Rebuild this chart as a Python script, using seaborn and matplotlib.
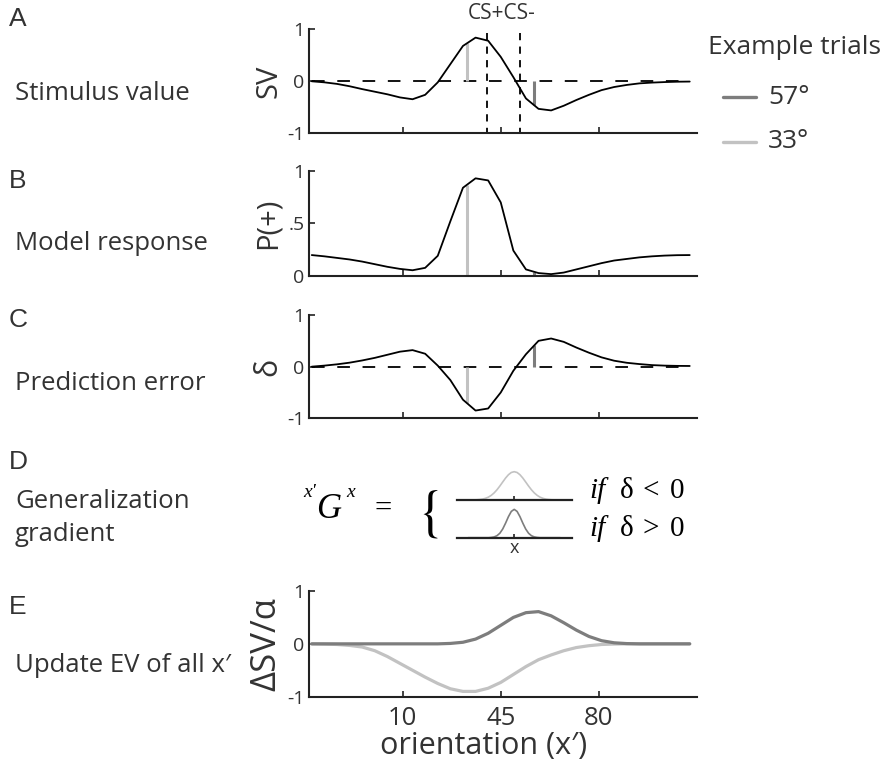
import numpy as np
import pandas as pd
import matplotlib
matplotlib.use("Agg")
import matplotlib.pyplot as plt
from matplotlib.lines import Line2D
import seaborn as sns

# ---------------- data ----------------
orientation = [-22.5, -18.0, -13.5, -9.0, -4.5, 0.0, 4.5, 9.0, 13.5, 18.0, 22.5,
               27.0, 31.5, 36.0, 40.5, 45.0, 49.5, 54.0, 58.5, 63.0, 67.5, 72.0,
               76.5, 81.0, 85.5, 90.0, 94.5, 99.0, 103.5, 108.0, 112.5]
stim_value = [0.0, -0.02, -0.05, -0.095, -0.15, -0.2, -0.25, -0.31, -0.345, -0.26,
              -0.02, 0.33, 0.68, 0.84, 0.78, 0.47, 0.08, -0.33, -0.53, -0.56, -0.47,
              -0.36, -0.26, -0.17, -0.11, -0.07, -0.04, -0.025, -0.015, -0.008, -0.005]
p_plus = [0.197, 0.185, 0.17, 0.155, 0.135, 0.11, 0.085, 0.065, 0.052, 0.075, 0.19,
          0.52, 0.84, 0.93, 0.91, 0.70, 0.24, 0.06, 0.025, 0.015, 0.03, 0.06, 0.09,
          0.12, 0.145, 0.16, 0.175, 0.185, 0.192, 0.196, 0.197]
pred_error = [0.0, 0.02, 0.045, 0.077, 0.12, 0.17, 0.23, 0.29, 0.32, 0.25, 0.02,
              -0.26, -0.64, -0.85, -0.81, -0.50, -0.08, 0.24, 0.50, 0.545, 0.48, 0.37,
              0.27, 0.18, 0.115, 0.075, 0.05, 0.03, 0.02, 0.015, 0.013]
update_33 = [0.0, -0.005, -0.012, -0.03, -0.06, -0.13, -0.24, -0.37, -0.50, -0.63,
             -0.75, -0.85, -0.90, -0.90, -0.84, -0.73, -0.58, -0.43, -0.30, -0.21,
             -0.13, -0.07, -0.035, -0.012, -0.004, 0.0, 0.0, 0.0, 0.0, 0.0, 0.0]
update_57 = [0.0, 0.0, 0.0, 0.0, 0.0, 0.0, 0.0, 0.0, 0.0, 0.0, 0.0, 0.008, 0.03,
             0.09, 0.20, 0.35, 0.50, 0.59, 0.61, 0.53, 0.40, 0.26, 0.14, 0.06, 0.02,
             0.005, 0.0, 0.0, 0.0, 0.0, 0.0]

trial_labels = ["57°", "33°"]
trial_orient = [57, 33]
cs_labels = ["CS+", "CS-"]
cs_orient = [40, 52]
xtick_vals = [10, 45, 80]
xtick_labels = ["10", "45", "80"]

# generalization-gradient icons (relative position, normalised height)
gg_pos = [-0.8, -0.75, -0.7, -0.65, -0.6, -0.55, -0.5, -0.45, -0.4, -0.35, -0.3, -0.25,
          -0.2, -0.15, -0.1, -0.05, 0.0, 0.05, 0.1, 0.15, 0.2, 0.25, 0.3, 0.35, 0.4,
          0.45, 0.5, 0.55, 0.6, 0.65, 0.7, 0.75, 0.8]
gg_wide = [0.0, 0.002, 0.004, 0.008, 0.017, 0.032, 0.059, 0.10, 0.163, 0.249, 0.36,
           0.492, 0.635, 0.775, 0.893, 0.972, 1.0, 0.972, 0.893, 0.775, 0.635, 0.492,
           0.36, 0.249, 0.163, 0.10, 0.059, 0.032, 0.017, 0.008, 0.004, 0.002, 0.0]
gg_narrow = [0.0, 0.0, 0.0, 0.0, 0.0, 0.0, 0.0, 0.0, 0.009, 0.027, 0.07, 0.157, 0.306,
             0.514, 0.744, 0.929, 1.0, 0.929, 0.744, 0.514, 0.306, 0.157, 0.07, 0.027,
             0.009, 0.0, 0.0, 0.0, 0.0, 0.0, 0.0, 0.0, 0.0]

# ---------------- style ----------------
sns.set_style("ticks")
plt.rcParams["font.family"] = ["Open Sans", "DejaVu Sans"]
plt.rcParams["mathtext.fontset"] = "stix"

TXT = "#333333"
AXC = "#222222"
DARK = "#7d7d7d"
LIGHT = "#c2c2c2"
SERIF = ["Liberation Serif", "DejaVu Serif"]
trial_colors = [DARK, LIGHT]

W, H = 882, 762
fig = plt.figure(figsize=(W / 100, H / 100), dpi=100)


def add_ax(l, t, r, b):
    return fig.add_axes([l / W, 1 - b / H, (r - l) / W, (b - t) / H])


def fx(px):
    return px / W


def fy(py):
    return 1 - py / H


XL, XR = 308.7, 697
XLIM = (-23.6, 115.1)

axA = add_ax(XL, 29.3, XR, 133.3)
axB = add_ax(XL, 171, XR, 275.7)
axC = add_ax(XL, 315, XR, 418.3)
axE = add_ax(XL, 591, XR, 696.7)

df = pd.DataFrame({"orientation": orientation, "sv": stim_value, "p": p_plus,
                   "delta": pred_error, "u33": update_33, "u57": update_57})

for ax in (axA, axB, axC, axE):
    sns.despine(ax=ax)
    ax.set_xlim(*XLIM)
    ax.set_xticks(xtick_vals)
    for s in ("left", "bottom"):
        ax.spines[s].set_color(AXC)
        ax.spines[s].set_linewidth(1.5)
    ax.tick_params(direction="in", length=4, width=1.2, colors=AXC,
                   labelcolor=TXT, labelsize=14, pad=3)
    ax.patch.set_alpha(0)

for ax in (axA, axB, axC):
    ax.tick_params(axis="x", labelbottom=False)

dash_long = (0, (7, 7))
dash_short = (0, (4, 3.5))

# ---- A: stimulus value ----
axA.plot([orientation[0], orientation[-1]], [0, 0], color="k", lw=1.3, linestyle=dash_long)
for xo in cs_orient:
    axA.plot([xo, xo], [0.93, -1], color="k", lw=1.3, linestyle=dash_short, clip_on=False)
for xo, c in zip(trial_orient, trial_colors):
    axA.vlines(xo, 0, np.interp(xo, orientation, stim_value), color=c, lw=2.2)
sns.lineplot(data=df, x="orientation", y="sv", ax=axA, color="k", lw=1.3)
axA.set_ylim(-1, 1)
axA.set_yticks([-1, 0, 1])
axA.set_yticklabels(["-1", "0", "1"])
axA.text(np.mean(cs_orient) - 0.5, 1.31, "".join(cs_labels), ha="center", va="center",
         fontsize=15, color=TXT)

# ---- B: model response ----
for xo, c in zip(trial_orient, trial_colors):
    axB.vlines(xo, 0, np.interp(xo, orientation, p_plus), color=c, lw=2.2)
sns.lineplot(data=df, x="orientation", y="p", ax=axB, color="k", lw=1.3)
axB.set_ylim(0, 1)
axB.set_yticks([0, 0.5, 1])
axB.set_yticklabels(["0", ".5", "1"])

# ---- C: prediction error ----
axC.plot([orientation[0], orientation[-1]], [0, 0], color="k", lw=1.3, linestyle=dash_long)
for xo, c in zip(trial_orient, trial_colors):
    axC.vlines(xo, 0, np.interp(xo, orientation, pred_error), color=c, lw=2.2)
sns.lineplot(data=df, x="orientation", y="delta", ax=axC, color="k", lw=1.3)
axC.set_ylim(-1, 1)
axC.set_yticks([-1, 0, 1])
axC.set_yticklabels(["-1", "0", "1"])

# ---- E: update ----
sns.lineplot(data=df, x="orientation", y="u33", ax=axE, color=LIGHT, lw=2.3)
sns.lineplot(data=df, x="orientation", y="u57", ax=axE, color=DARK, lw=2.3)
axE.set_ylim(-1, 1)
axE.set_yticks([-1, 0, 1])
axE.set_yticklabels(["-1", "0", "1"])
axE.set_xticklabels(xtick_labels)
axE.tick_params(axis="x", labelsize=18.5, pad=7)
axE.set_xlabel("orientation (x′)", fontsize=22, color=TXT)
axE.xaxis.set_label_coords((484 - XL) / (XR - XL), -0.32)

ylabels = {axA: ("SV", 21), axB: ("P(+)", 21), axC: ("δ", 22), axE: ("ΔSV/α", 25)}
for ax, (lab, fs) in ylabels.items():
    ax.set_ylabel(lab, fontsize=fs, color=TXT)
    ax.yaxis.set_label_coords(-0.066, 0.5)

# ---- D: generalization gradient icons ----
for top, vals, col, show_x in ((468, gg_wide, LIGHT, False), (505.7, gg_narrow, DARK, True)):
    axg = add_ax(456.7, top, 571.7, top + 32)
    sns.lineplot(x=gg_pos, y=vals, ax=axg, color=col, lw=1.2)
    axg.set_xlim(-1, 1)
    axg.set_ylim(0, 1.13)
    sns.despine(ax=axg, left=True)
    axg.spines["bottom"].set_linewidth(1.6)
    axg.spines["bottom"].set_color(AXC)
    axg.set_yticks([])
    axg.set_ylabel("")
    axg.set_xticks([0])
    axg.set_xticklabels(["x"] if show_x else [""])
    axg.tick_params(axis="x", direction="in", length=3, width=1.2, colors=AXC,
                    labelcolor=TXT, labelsize=13, pad=1)
    axg.patch.set_alpha(0)

# formula  x'G^x = { ... if δ < 0 / if δ > 0
fig.text(fx(303), fy(497), "x'", fontsize=14, style="italic", family=SERIF, color="k",
         ha="left", va="baseline")
fig.text(fx(316), fy(518), "G", fontsize=25, style="italic", family=SERIF, color="k",
         ha="left", va="baseline")
fig.text(fx(346), fy(497), "x", fontsize=14, style="italic", family=SERIF, color="k",
         ha="left", va="baseline")
fig.text(fx(375), fy(517), "=", fontsize=22, family=SERIF, color="k",
         ha="left", va="baseline")
fig.text(fx(428), fy(514), r"$\{$", fontsize=40, color="k", ha="center", va="center")
for base, rel in ((498, "<"), (536, ">")):
    fig.text(fx(589), fy(base), "if", fontsize=21, style="italic", family=SERIF,
             color="k", ha="left", va="baseline")
    fig.text(fx(620), fy(base), "δ", fontsize=21, family=SERIF, color="k",
             ha="left", va="baseline")
    fig.text(fx(642), fy(base), rel, fontsize=21, family=SERIF, color="k",
             ha="left", va="baseline")
    fig.text(fx(670), fy(base), "0", fontsize=21, family=SERIF, color="k",
             ha="left", va="baseline")

# ---- left panel labels ----
panel_letters = [("A", 19), ("B", 181), ("C", 320), ("D", 462), ("E", 607)]
for let, py in panel_letters:
    fig.text(fx(9), fy(py), let, fontsize=19, color=TXT, ha="left", va="center",
             family=["Liberation Sans", "DejaVu Sans"])
row_titles = [("Stimulus value", 93), ("Model response", 243), ("Prediction error", 384),
              ("Generalization\ngradient", 518), ("Update EV of all x′", 665)]
for t, py in row_titles:
    fig.text(fx(15), fy(py), t, fontsize=18.5, color=TXT, ha="left", va="center",
             linespacing=1.42)

# ---- legend ----
fig.text(fx(708), fy(48), "Example trials", fontsize=19, color=TXT, ha="left", va="center")
for lab, c, py in zip(trial_labels, trial_colors, [97, 142]):
    fig.add_artist(Line2D([fx(723), fx(756)], [fy(py), fy(py)], transform=fig.transFigure,
                          color=c, lw=2.4))
    fig.text(fx(768), fy(py), lab, fontsize=19, color=TXT, ha="left", va="center")

fig.savefig("out.png", dpi=100)
